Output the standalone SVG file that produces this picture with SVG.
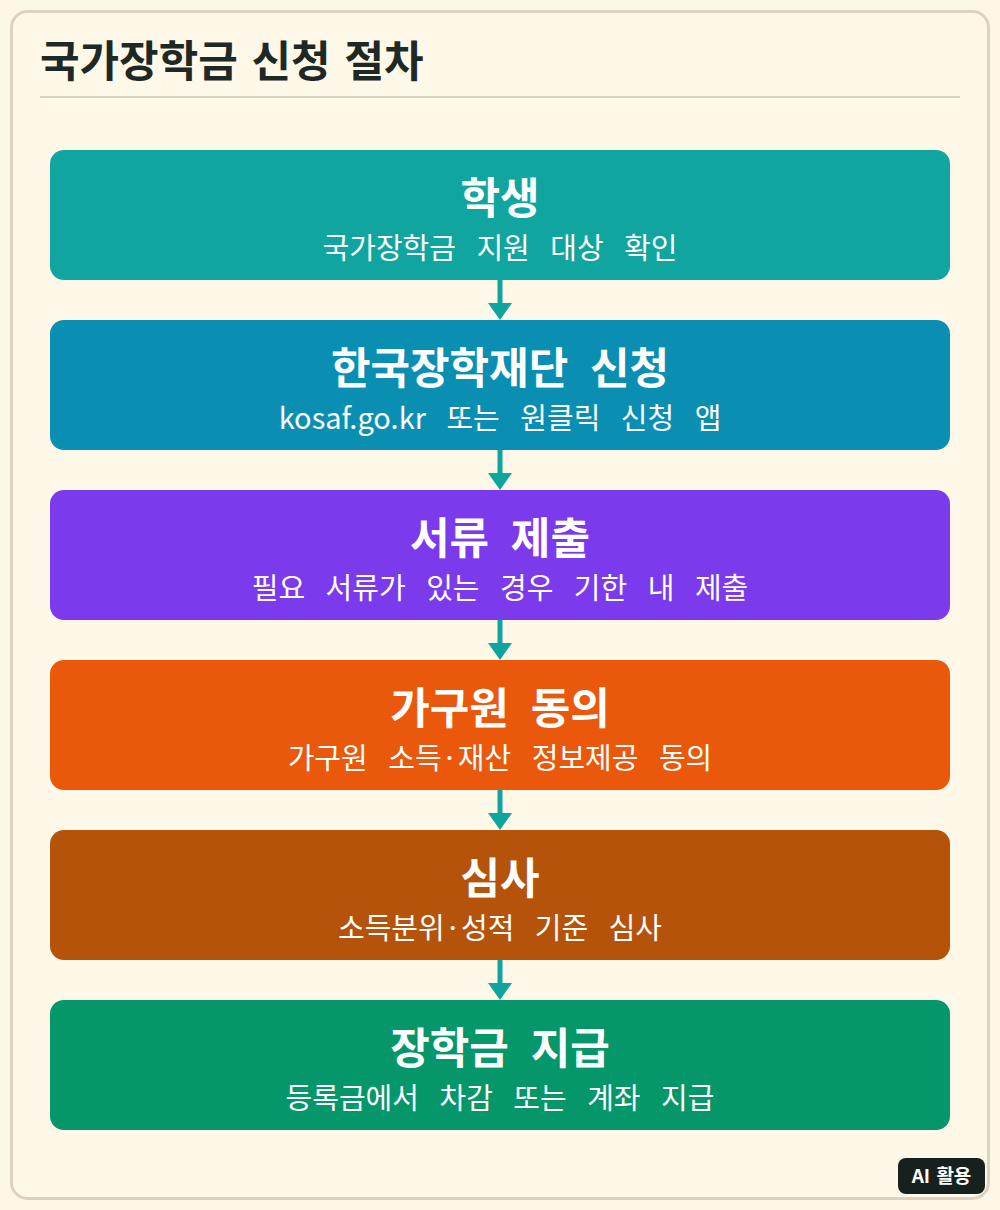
<svg xmlns="http://www.w3.org/2000/svg" width="1000" height="1210" viewBox="0 0 1000 1210">
<defs>
<style>
.t{font-family:"Noto Sans CJK KR","Noto Sans",sans-serif;fill:#ffffff;text-anchor:middle}
.h{font-size:43px;font-weight:700;word-spacing:12px}
.s{font-size:29px;font-weight:400;word-spacing:14px}
.c{stroke:#0fa59e;stroke-width:5;fill:none}
.a{fill:#0fa59e}
</style>
</defs>
<rect x="0" y="0" width="1000" height="1210" fill="#fdf7e8"/>
<rect x="11.5" y="11.5" width="977" height="1187" rx="16" fill="#fef8e8" stroke="#dcd2bf" stroke-width="3"/>
<text x="40" y="77" font-family="'Noto Sans CJK KR','Noto Sans',sans-serif" font-size="43" font-weight="700" fill="#1e2925" word-spacing="4">국가장학금 신청 절차</text>
<line x1="40" y1="97" x2="960" y2="97" stroke="#dcd2bf" stroke-width="2"/>
<g id="connectors">
<line class="c" x1="500" y1="280" x2="500" y2="304"/><path class="a" d="M488,303 L512,303 L500,320 Z"/>
<line class="c" x1="500" y1="450" x2="500" y2="474"/><path class="a" d="M488,473 L512,473 L500,490 Z"/>
<line class="c" x1="500" y1="620" x2="500" y2="644"/><path class="a" d="M488,643 L512,643 L500,660 Z"/>
<line class="c" x1="500" y1="790" x2="500" y2="814"/><path class="a" d="M488,813 L512,813 L500,830 Z"/>
<line class="c" x1="500" y1="960" x2="500" y2="984"/><path class="a" d="M488,983 L512,983 L500,1000 Z"/>
</g>
<g id="n1"><rect x="50" y="150" width="900" height="130" rx="14" fill="#10a59f"/>
<text class="t h" x="500" y="214">학생</text><text class="t s" x="500" y="259">국가장학금 지원 대상 확인</text></g>
<g id="n2"><rect x="50" y="320" width="900" height="130" rx="14" fill="#0a8fb3"/>
<text class="t h" x="500" y="384">한국장학재단 신청</text><text class="t s" x="500" y="429">kosaf.go.kr 또는 원클릭 신청 앱</text></g>
<g id="n3"><rect x="50" y="490" width="900" height="130" rx="14" fill="#7c3aed"/>
<text class="t h" x="500" y="554">서류 제출</text><text class="t s" x="500" y="599">필요 서류가 있는 경우 기한 내 제출</text></g>
<g id="n4"><rect x="50" y="660" width="900" height="130" rx="14" fill="#ea580c"/>
<text class="t h" x="500" y="724">가구원 동의</text><text class="t s" x="500" y="769">가구원 소득·재산 정보제공 동의</text></g>
<g id="n5"><rect x="50" y="830" width="900" height="130" rx="14" fill="#b45309"/>
<text class="t h" x="500" y="894">심사</text><text class="t s" x="500" y="939">소득분위·성적 기준 심사</text></g>
<g id="n6"><rect x="50" y="1000" width="900" height="130" rx="14" fill="#059669"/>
<text class="t h" x="500" y="1064">장학금 지급</text><text class="t s" x="500" y="1109">등록금에서 차감 또는 계좌 지급</text></g>
<g id="badge"><rect x="898" y="1158" width="87" height="36" rx="8" fill="#16211e"/>
<text class="t" x="941.5" y="1183" font-size="19" font-weight="700" word-spacing="2">AI 활용</text></g>
</svg>
